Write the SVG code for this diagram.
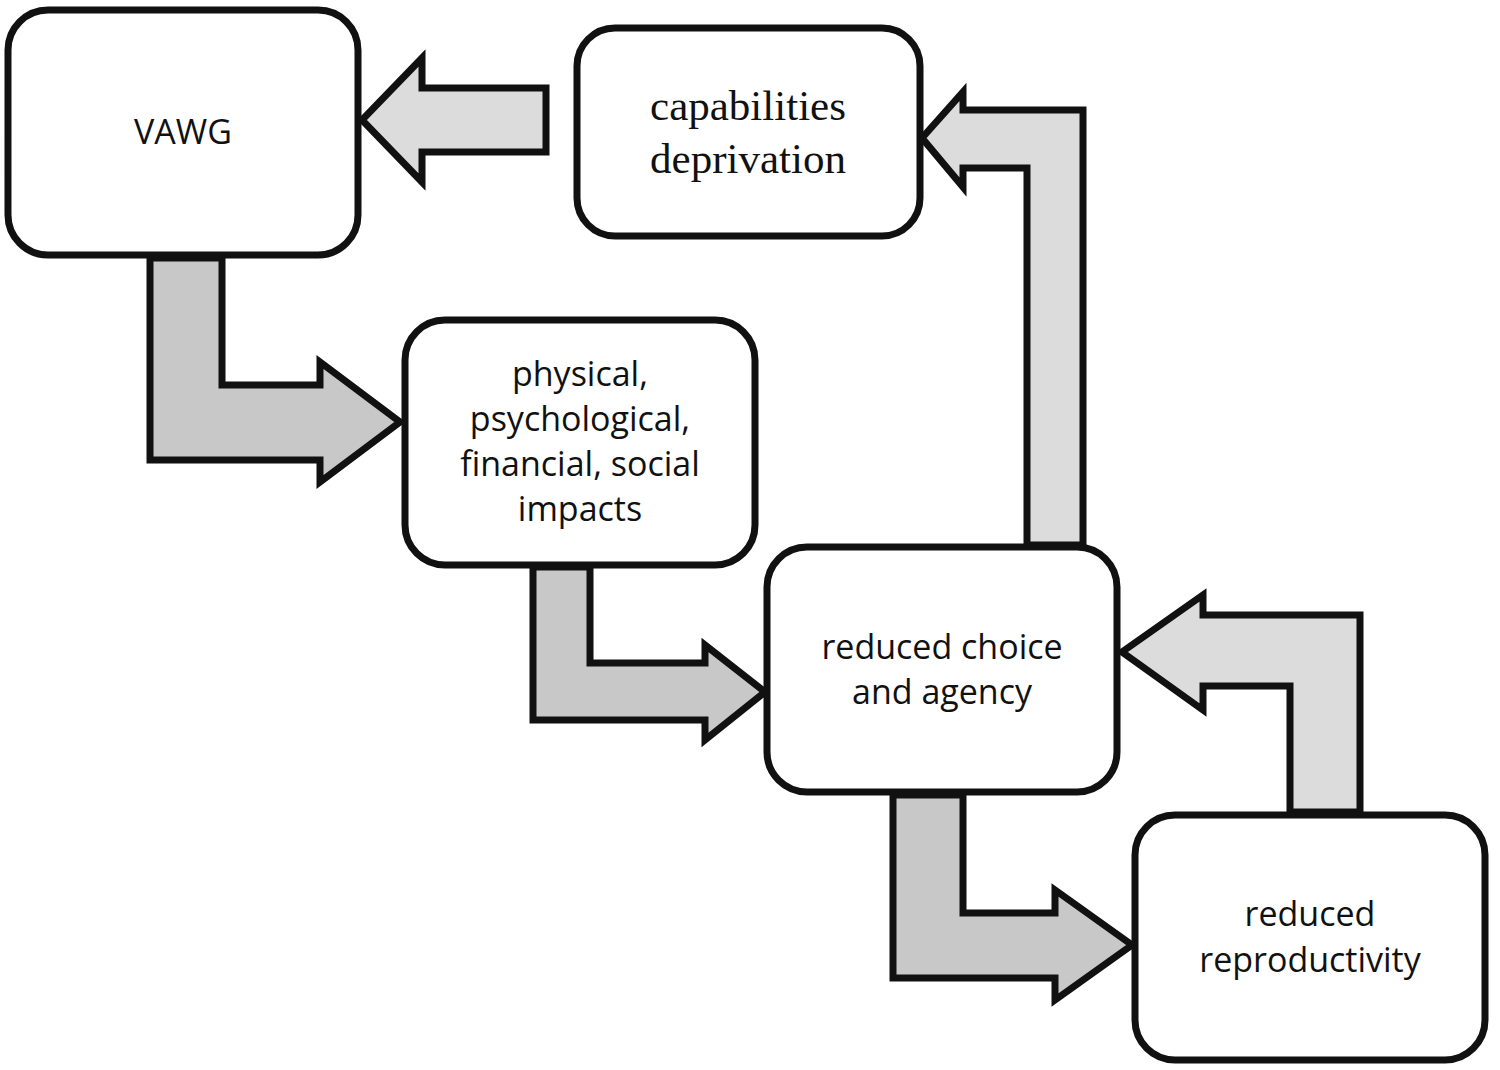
<svg xmlns="http://www.w3.org/2000/svg" width="1500" height="1070" viewBox="0 0 1500 1070">
<style>
.box{fill:#fff;stroke:#111;stroke-width:7}
.a1{fill:#dcdcdc;stroke:#111;stroke-width:7;stroke-linejoin:miter}
.a2{fill:#c8c8c8;stroke:#111;stroke-width:7;stroke-linejoin:miter}
.t{font-family:"Open Sans","Liberation Sans",sans-serif;font-size:34px;fill:#111;text-anchor:middle}
.s{font-family:"Liberation Serif",serif;font-size:43px;fill:#111;text-anchor:middle}
</style>
<rect width="1500" height="1070" fill="#fff"/>
<g id="connectors">
<path class="a1" d="M546,88 H422 V58 L362,120 L422,182 V152 H546 Z"/>
<path class="a2" d="M150,258 H222 V385 H320 V362 L400,422 L320,482 V460 H150 Z"/>
<path class="a2" d="M533,567 H590 V663 H705 V645 L765,692 L705,740 V720 H533 Z"/>
<path class="a2" d="M893,795 H963 V913 H1055 V890 L1132,945 L1055,1000 V978 H893 Z"/>
<path class="a1" d="M1290,812 H1360 V615 H1203 V595 L1122,652 L1203,710 V686 H1290 Z"/>
<path class="a1" d="M1027,545 H1083 V110 H963 V92 L922,138 L963,187 V168 H1027 Z"/>
</g>
<g id="vawg"><rect class="box" x="8" y="10" width="350" height="245" rx="40"/><text class="t" x="183" y="144">VAWG</text></g>
<g id="capabilities"><rect class="box" x="577" y="28" width="343" height="208" rx="38"/><text class="s" x="748" y="120">capabilities</text><text class="s" x="748" y="173">deprivation</text></g>
<g id="impacts"><rect class="box" x="405" y="320" width="350" height="245" rx="40"/>
<text class="t" x="580" y="386">physical,</text><text class="t" x="580" y="431">psychological,</text><text class="t" x="580" y="476">financial, social</text><text class="t" x="580" y="521">impacts</text></g>
<g id="choice"><rect class="box" x="767" y="547" width="350" height="245" rx="40"/><text class="t" x="942" y="659">reduced choice</text><text class="t" x="942" y="704">and agency</text></g>
<g id="reproductivity"><rect class="box" x="1135" y="815" width="350" height="245" rx="40"/><text class="t" x="1310" y="926">reduced</text><text class="t" x="1310" y="972">reproductivity</text></g>
</svg>
